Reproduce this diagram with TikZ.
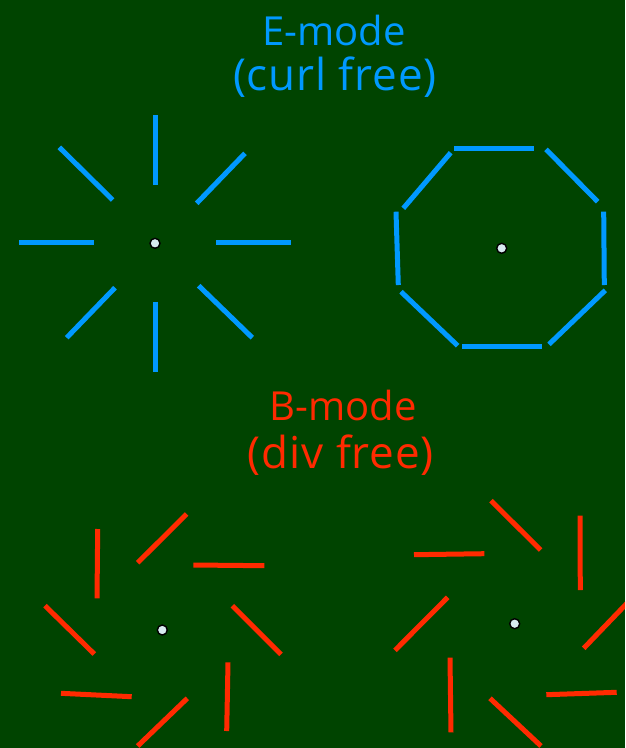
\documentclass[tikz,border=0pt]{standalone}
\usepackage{fontspec}
\setmainfont{Open Sans}
\definecolor{bg}{RGB}{0,68,0}
\definecolor{eblue}{RGB}{0,153,255}
\definecolor{bred}{RGB}{255,42,0}
\definecolor{dotfill}{RGB}{215,235,240}
\tikzset{
  ebar/.style={draw=eblue, line width=5pt},
  bbar/.style={draw=bred, line width=5pt},
  cdot/.style={circle, draw=black, line width=1.4pt, fill=dotfill, minimum size=10pt, inner sep=0pt},
  etext/.style={text=eblue, font=\fontsize{40}{40}\selectfont, inner sep=0pt, anchor=base},
  btext/.style={text=bred, font=\fontsize{40}{40}\selectfont, inner sep=0pt, anchor=base},
  wide/.style={font=\fontsize{44}{44}\selectfont\addfontfeature{LetterSpace=2}}
}
\begin{document}
\begin{tikzpicture}[x=1pt,y=-1pt]
\fill[bg] (0,0) rectangle (625,748);
\useasboundingbox (0,0) rectangle (625,748);
\clip (0,0) rectangle (625,748);
% titles
\node[etext] (e1) at (334,45) {E-mode};
\node[etext,wide] (e2) at (335,90) {(curl free)};
\node[btext] (b1) at (343,420) {B-mode};
\node[btext,wide] (b2) at (341,468) {(div free)};
% E-mode radial
\draw[ebar] (155.7,115) -- (155.7,185);
\draw[ebar] (59.3,147.3) -- (112.7,200);
\draw[ebar] (245,153.3) -- (196.7,203.3);
\draw[ebar] (19.3,242.3) -- (94,242.3);
\draw[ebar] (216,242.3) -- (290.7,242.3);
\draw[ebar] (115,287.7) -- (66.7,337.7);
\draw[ebar] (155.7,301.7) -- (155.7,371.7);
\draw[ebar] (198.7,285.7) -- (252.3,337.7);
\node[cdot] (d1) at (155,243.3) {};
% E-mode tangential
\draw[ebar] (454,148.3) -- (533.7,148.3);
\draw[ebar] (450.7,152.7) -- (403.3,208.3);
\draw[ebar] (546,149.3) -- (597.7,201.7);
\draw[ebar] (396,211.7) -- (398.3,285);
\draw[ebar] (603.7,211.7) -- (604.3,285);
\draw[ebar] (401,291.7) -- (457.7,345.7);
\draw[ebar] (462.3,346) -- (541.7,346);
\draw[ebar] (605.3,290.3) -- (549,344.3);
\node[cdot] (d2) at (501.7,248.3) {};
% B-mode left
\draw[bbar] (97.7,529) -- (97,598.3);
\draw[bbar] (186.7,514) -- (137.7,562.7);
\draw[bbar] (193.3,565) -- (264.3,565.7);
\draw[bbar] (45,605.7) -- (94.3,654);
\draw[bbar] (232.3,605.7) -- (281,654.3);
\draw[bbar] (61,693.3) -- (131.7,696.7);
\draw[bbar] (187.3,698.3) -- (137.7,746);
\draw[bbar] (228,662.3) -- (226.7,731);
\node[cdot] (d3) at (162.3,630) {};
% B-mode right
\draw[bbar] (491,500.7) -- (540.7,550);
\draw[bbar] (580,515.7) -- (580.3,590);
\draw[bbar] (414,554.7) -- (484.3,553.7);
\draw[bbar] (447.7,597.3) -- (395,650.3);
\draw[bbar] (632,598) -- (583.7,648.3);
\draw[bbar] (450,657.7) -- (451,732.3);
\draw[bbar] (490,698.3) -- (541,746);
\draw[bbar] (546.3,694.7) -- (616.7,692.3);
\node[cdot] (d4) at (514.7,623.7) {};
\end{tikzpicture}
\end{document}
